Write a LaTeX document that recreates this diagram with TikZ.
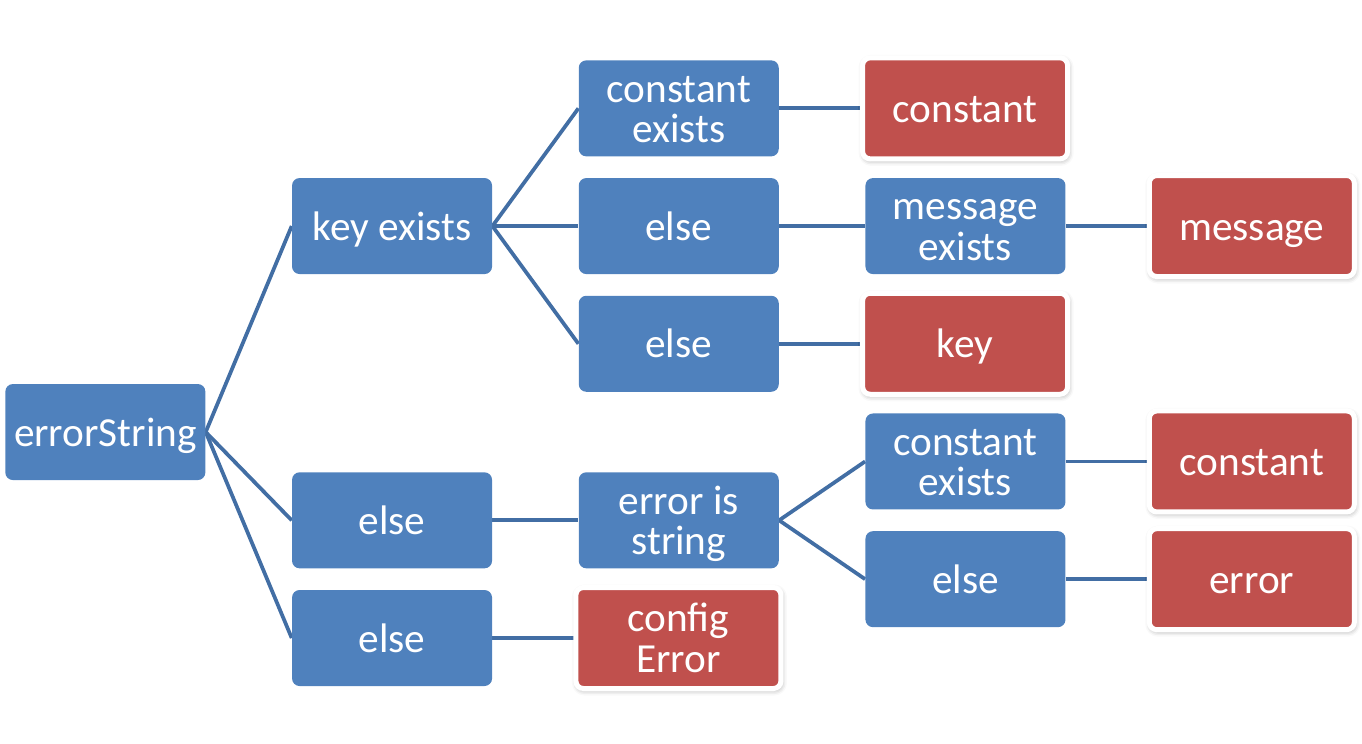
\documentclass[tikz,border=0pt]{standalone}
\usepackage{fontspec}
\setmainfont{Carlito}
\usetikzlibrary{positioning,calc,shadows.blur,backgrounds}
\definecolor{boxblue}{RGB}{79,129,189}
\definecolor{boxred}{RGB}{192,80,77}
\definecolor{lineblue}{RGB}{66,110,164}
\newcommand{\upstrut}{\rule{0pt}{21pt}}
\newcommand{\downstrut}{\rule[-5pt]{0pt}{5pt}}
\tikzset{%
  % Specifications for style of nodes:
      base/.style = {rectangle, rounded corners=0.15cm,
                     minimum width=4cm, minimum height=1.92cm,
                     text width=3.8cm, inner xsep=0.1cm, inner ysep=0pt,
                     align=flush center, text=white,
                     font=\fontsize{23.5}{23}\selectfont,
                     execute at begin node=\upstrut,
                     execute at end node=\downstrut},
  decision/.style = {base, fill=boxblue},
    result/.style = {base, fill=boxred, draw=white, line width=0.1cm,
                     minimum width=4.1cm, minimum height=2.02cm, outer sep=-0.05cm,
                     blur shadow={shadow xshift=0.02cm, shadow yshift=-0.04cm,
                                  shadow blur radius=0.1cm, shadow opacity=35}},
      link/.style = {draw=lineblue, line width=0.075cm},
}
\begin{document}
\begin{tikzpicture}[node distance=0.42cm and 1.72cm]

\node (KeyEx)    [decision]                           {key exists};

\node (ElseA)    [decision, right=of KeyEx]           {else};

\node (ConstEx)  [decision, above=of ElseA]           {constant\\exists};

\node (ElseB)    [decision, below=of ElseA]           {else};

\node (Const)    [result, right=of ConstEx]           {constant};

\node (MsgEx)    [decision, right=of ElseA]           {message\\exists};

\node (Msg)      [result, right=of MsgEx]             {message};

\node (Key)      [result, right=of ElseB]             {key};

\node (ConstExB) [decision, below right=0.42cm and 1.72cm of ElseB] {constant\\exists};

\node (ElseD)    [decision, below=of ConstExB]        {else};

\node (ConstB)   [result, right=of ConstExB]          {constant};

\node (ErrR)     [result, right=of ElseD]             {error};

\coordinate (mid) at ($(ConstExB.west)!0.5!(ElseD.west)$);

\node (IsStr)    [decision, left=of mid]              {error is\\string};

\node (ElseC)    [decision, left=of IsStr]            {else};

\node (ElseE)    [decision, below=of ElseC]           {else};

\node (Config)   [result, right=of ElseE]             {config\\Error};

\coordinate (rootmid) at ($(KeyEx.west)!0.5!(ElseE.west)$);

\node (Root)     [decision, left=of rootmid]          {errorString};

\path[use as bounding box] ($(Root.west |- ConstEx.north)+(-0.1,1.2)$) rectangle ++(27.24,-14.86);

\begin{scope}[on background layer]
\draw[link]             (Root.east) -- (KeyEx.west);
\draw[link]             (Root.east) -- (ElseC.west);
\draw[link]             (Root.east) -- (ElseE.west);
\draw[link]             (KeyEx.east) -- (ConstEx.west);
\draw[link]             (KeyEx.east) -- (ElseA.west);
\draw[link]             (KeyEx.east) -- (ElseB.west);
\draw[link]             (ConstEx.east) -- (Const.west);
\draw[link]             (ElseA.east) -- (MsgEx.west);
\draw[link]             (MsgEx.east) -- (Msg.west);
\draw[link]             (ElseB.east) -- (Key.west);
\draw[link]             (ElseC.east) -- (IsStr.west);
\draw[link]             (IsStr.east) -- (ConstExB.west);
\draw[link]             (IsStr.east) -- (ElseD.west);
\draw[link]             (ConstExB.east) -- (ConstB.west);
\draw[link]             (ElseD.east) -- (ErrR.west);
\draw[link]             (ElseE.east) -- (Config.west);
\end{scope}
  \end{tikzpicture}
\end{document}
